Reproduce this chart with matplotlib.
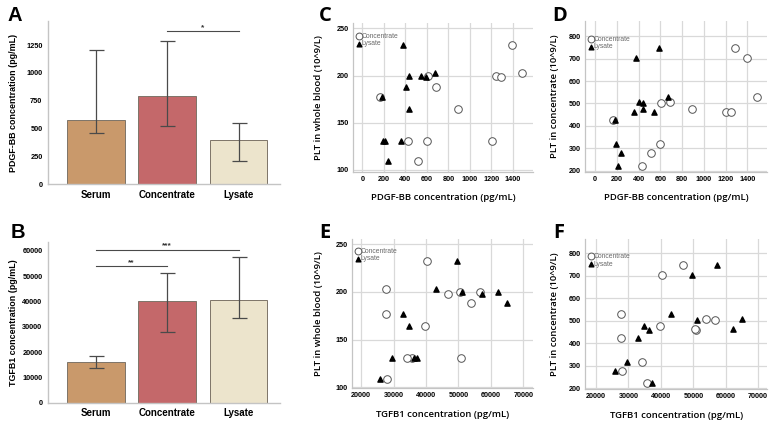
import matplotlib
matplotlib.use("Agg")
import matplotlib.pyplot as plt

# ---------------- data ----------------
groups = ["Serum", "Concentrate", "Lysate"]
pdgf_mean = [578, 790, 395]
pdgf_low = [458, 518, 210]
pdgf_high = [1202, 1289, 545]
tgfb1_mean = [15900, 40200, 40400]
tgfb1_low = [13700, 28000, 33300]
tgfb1_high = [18400, 51300, 57600]
pdgf_ticks = [0, 250, 500, 750, 1000, 1250]
tgfb1_ticks = [0, 10000, 20000, 30000, 40000, 50000, 60000]

# per donor values (same donor order in every list)
plt_whole_blood = [177, 131, 109, 131, 200, 188, 164, 131, 200, 198, 232, 203]
plt_concentrate = [424, 222, 278, 318, 504, 507, 477, 461, 464, 749, 704, 529]
pdgf_concentrate = [162, 429, 515, 600, 609, 689, 891, 1207, 1247, 1289, 1394, 1485]
pdgf_lysate = [184, 208, 236, 193, 438, 404, 438, 355, 542, 588, 377, 674]
tgfb1_concentrate = [27800, 35700, 28000, 34100, 56750, 53950, 39700, 50800, 50500, 46700, 40200, 27650]
tgfb1_lysate = [32940, 37200, 25950, 29550, 51100, 64950, 34680, 36300, 62200, 57200, 49450, 43100]

pdgf_xticks = [0, 200, 400, 600, 800, 1000, 1200, 1400]
tgfb1_xticks = [20000, 30000, 40000, 50000, 60000, 70000]
wb_yticks = [100, 150, 200, 250]
conc_yticks = [200, 300, 400, 500, 600, 700, 800]

# ---------------- style ----------------
W, H = 776, 422
bar_colors = ["#C9996B", "#C4686A", "#ECE4CC"]
bar_edge = "#7d7468"
err_col = "#4a4a4a"
grid_col = "#d9d9d9"
axis_col = "#c4c4c4"
BAR_FONT = "Liberation Sans"
SC_FONT = "Open Sans"

fig = plt.figure(figsize=(W / 100, H / 100), dpi=100)


def box(left, top, right, bottom):
    return [left / W, 1 - bottom / H, (right - left) / W, (bottom - top) / H]


def bar_panel(rect, means, lo, hi, ylim, yticks, ylabel, sigs):
    ax = fig.add_axes(rect)
    x = list(range(len(groups)))
    ax.bar(x, means, width=0.807, color=bar_colors, edgecolor=bar_edge, linewidth=0.7, zorder=2)
    yerr = [[m - l for m, l in zip(means, lo)], [h - m for m, h in zip(means, hi)]]
    ax.errorbar(x, means, yerr=yerr, fmt="none", ecolor=err_col, elinewidth=0.9,
                capsize=5.4, capthick=0.9, zorder=3)
    for x0, x1, y, txt in sigs:
        ax.plot([x0, x1], [y, y], color=err_col, lw=0.8)
        ax.text((x0 + x1) / 2, y, txt, ha="center", va="bottom", fontsize=6,
                fontweight="bold", family=BAR_FONT, color="#333333")
    ax.set_xlim(-0.668, 2.58)
    ax.set_ylim(*ylim)
    ax.set_xticks(x)
    ax.set_xticklabels(groups, fontsize=7, fontweight="bold", family=BAR_FONT)
    ax.set_yticks(yticks)
    ax.set_yticklabels([str(t) for t in yticks], fontsize=5.3, fontweight="bold", family=BAR_FONT)
    ax.tick_params(length=0, pad=4)
    ax.tick_params(axis="x", pad=4)
    for s in ["top", "right"]:
        ax.spines[s].set_visible(False)
    for s in ["left", "bottom"]:
        ax.spines[s].set_color(axis_col)
        ax.spines[s].set_linewidth(1.0)
    ax.set_ylabel(ylabel, fontsize=6.4, fontweight="bold", family=BAR_FONT)
    ax.yaxis.set_label_coords(-0.13, 0.5)
    return ax


def scatter_panel(rect, xc, xl, y, xlim, ylim, xticks, yticks, xlabel, ylabel,
                  ylab_x, xlab_y, leg_y):
    ax = fig.add_axes(rect)
    ax.set_axisbelow(True)
    ax.grid(True, color=grid_col, lw=0.9)
    ax.scatter(xc, y, s=30, facecolors="white", edgecolors="#555555", linewidths=0.7,
               label="Concentrate", zorder=3)
    ax.scatter(xl, y, s=14, marker="^", color="black", label="Lysate", zorder=4)
    ax.set_xlim(*xlim)
    ax.set_ylim(*ylim)
    ax.set_xticks(xticks)
    ax.set_xticklabels([str(t) for t in xticks], fontsize=5.2, fontweight="bold", family=BAR_FONT)
    ax.set_yticks(yticks)
    ax.set_yticklabels([str(t) for t in yticks], fontsize=5.2, fontweight="bold", family=BAR_FONT)
    ax.tick_params(length=0, pad=3)
    for s in ["top", "right"]:
        ax.spines[s].set_visible(False)
    for s in ["left", "bottom"]:
        ax.spines[s].set_color(axis_col)
        ax.spines[s].set_linewidth(0.9)
    ax.set_xlabel(xlabel, fontsize=6.8, fontweight="semibold", family=SC_FONT)
    ax.set_ylabel(ylabel, fontsize=6.8, fontweight="semibold", family=SC_FONT)
    ax.yaxis.set_label_coords(ylab_x, 0.5)
    ax.xaxis.set_label_coords(0.5, xlab_y)
    leg = ax.legend(loc="upper left", bbox_to_anchor=(-0.005, leg_y), frameon=False,
                    handlelength=0.6, handletextpad=0.15, labelspacing=0.1,
                    borderpad=0.2, markerscale=0.9, prop={"family": BAR_FONT, "size": 4.9})
    for t in leg.get_texts():
        t.set_color("#6a6a6a")
    return ax


# Panel A
bar_panel(box(48, 21, 280, 184), pdgf_mean, pdgf_low, pdgf_high, (0, 1466),
          pdgf_ticks, "PDGF-BB concentration (pg/mL)", [(1, 2, 1378, "*")])
# Panel B
bar_panel(box(48, 241.7, 280, 402.7), tgfb1_mean, tgfb1_low, tgfb1_high, (0, 63600),
          tgfb1_ticks, "TGFB1 concentration (pg/mL)",
          [(0, 1, 54000, "**"), (0, 2, 60500, "***")])

# Panel C
scatter_panel(box(352.7, 22.7, 533.3, 171.7), pdgf_concentrate, pdgf_lysate, plt_whole_blood,
              (-90, 1590), (98, 256), pdgf_xticks, wb_yticks,
              "PDGF-BB concentration (pg/mL)", "PLT in whole blood (10^9/L)", -0.165, -0.14, 0.965)
# Panel D
scatter_panel(box(585, 20.7, 767.3, 171.7), pdgf_concentrate, pdgf_lysate, plt_concentrate,
              (-92, 1584), (195, 870), pdgf_xticks, conc_yticks,
              "PDGF-BB concentration (pg/mL)", "PLT in concentrate (10^9/L)", -0.145, -0.14, 0.932)
# Panel E
scatter_panel(box(351.7, 239.3, 533.3, 388.3), tgfb1_concentrate, tgfb1_lysate, plt_whole_blood,
              (17100, 73100), (99, 255), tgfb1_xticks, wb_yticks,
              "TGFB1 concentration (pg/mL)", "PLT in whole blood (10^9/L)", -0.16, -0.145, 0.975)
# Panel F
scatter_panel(box(585, 239.3, 767.3, 389), tgfb1_concentrate, tgfb1_lysate, plt_concentrate,
              (16600, 72800), (197, 862), tgfb1_xticks, conc_yticks,
              "TGFB1 concentration (pg/mL)", "PLT in concentrate (10^9/L)", -0.145, -0.145, 0.94)

# Panel letters
for txt, x, y, fam in [("A", 8, 6, BAR_FONT), ("B", 11, 223, BAR_FONT),
                       ("C", 319, 6, SC_FONT), ("D", 552, 6, SC_FONT),
                       ("E", 319, 223, SC_FONT), ("F", 553, 223, SC_FONT)]:
    fig.text(x / W, 1 - y / H, txt, fontsize=14.5, fontweight="bold", family=fam,
             ha="left", va="top")

fig.savefig("out.png", dpi=100)
